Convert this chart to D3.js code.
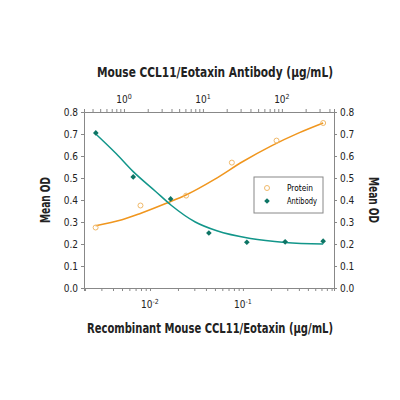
<!DOCTYPE html><html><head><meta charset="utf-8"><script src="https://cdn.jsdelivr.net/npm/d3@7"></script>
<style>body{margin:0;background:#fff}text{font-family:"Liberation Sans Narrow","DejaVu Sans Condensed",sans-serif}</style></head><body><svg id="c" width="400" height="400"></svg><script>
const proteinX=[0.0026,0.0079,0.0245,0.076,0.23,0.73];
const proteinY=[0.275,0.375,0.42,0.57,0.67,0.75];
const antibodyX=[0.44,1.31,3.9,11.9,36,110,333];
const antibodyY=[0.705,0.505,0.405,0.25,0.208,0.21,0.213];
const proteinFitX=[0.0026,0.005,0.008,0.015,0.025,0.05,0.1,0.2,0.4,0.73];
const proteinFitY=[0.283,0.31,0.34,0.385,0.425,0.495,0.575,0.645,0.705,0.75];
const antibodyFitX=[0.44,0.8,1.3,2.5,4,8,15,40,110,333];
const antibodyFitY=[0.70,0.61,0.53,0.44,0.375,0.30,0.26,0.225,0.207,0.20];
const yTicks=[0,0.1,0.2,0.3,0.4,0.5,0.6,0.7,0.8];
const svg=d3.select("#c");
const L=84,R=334,T=112,B=288;
const xb=d3.scaleLog().domain([Math.pow(10,-2.71),Math.pow(10,-0.02)]).range([L,R]);
const xt=d3.scaleLog().domain([Math.pow(10,-0.506),Math.pow(10,2.66)]).range([L,R]);
const y=d3.scaleLinear().domain([0,0.8]).range([B,T]);
function logAxis(g,ax,scale,exps,below){
  g.call(ax.tickSize(3).tickFormat(""));
  g.select(".domain").attr("stroke","#888");g.selectAll(".tick line").attr("stroke","#888");
  exps.forEach(e=>{const t=g.append("text").attr("x",scale(Math.pow(10,e))).attr("y",below?20:-9).attr("text-anchor","middle").attr("font-size",10).attr("fill","#222");
    t.append("tspan").text("10");t.append("tspan").attr("dy",-4).attr("font-size",7).text(e);});
}
const gb=svg.append("g").attr("transform",`translate(0,${B})`);
logAxis(gb,d3.axisBottom(xb),xb,[-2,-1],true);
const gt=svg.append("g").attr("transform",`translate(0,${T})`);
logAxis(gt,d3.axisTop(xt),xt,[0,1,2],false);
[[L,d3.axisLeft(y)],[R,d3.axisRight(y)]].forEach(([x,a])=>{
  const g=svg.append("g").attr("transform",`translate(${x},0)`).call(a.tickValues(yTicks).tickSize(3).tickFormat(d3.format(".1f")));
  g.select(".domain").attr("stroke","#888");g.selectAll(".tick line").attr("stroke","#888");
  g.selectAll("text").attr("font-size",10).attr("fill","#222");
});
const ln=d3.line().curve(d3.curveMonotoneX);
svg.append("path").attr("d",ln(proteinFitX.map((d,i)=>[xb(d),y(proteinFitY[i])]))).attr("fill","none").attr("stroke","#f0961e").attr("stroke-width",1.5);
svg.append("path").attr("d",ln(antibodyFitX.map((d,i)=>[xt(d),y(antibodyFitY[i])]))).attr("fill","none").attr("stroke","#12968a").attr("stroke-width",1.5);
svg.selectAll(".p").data(proteinX).enter().append("circle").attr("cx",d=>xb(d)).attr("cy",(d,i)=>y(proteinY[i])).attr("r",2.5).attr("fill","none").attr("stroke","#f0b96a");
const dia=d3.symbol().type(d3.symbolSquare).size(16);
svg.selectAll(".a").data(antibodyX).enter().append("path").attr("d",dia).attr("transform",(d,i)=>`translate(${xt(d)},${y(antibodyY[i])}) rotate(45)`).attr("fill","#0d7565");
const lg=svg.append("g");
lg.append("rect").attr("x",254).attr("y",177).attr("width",69).attr("height",36).attr("fill","#fff").attr("stroke","#888");
lg.append("circle").attr("cx",267).attr("cy",188).attr("r",2.5).attr("fill","none").attr("stroke","#f0b96a");
lg.append("path").attr("d",dia).attr("transform","translate(267,201) rotate(45)").attr("fill","#0d7565");
lg.append("text").attr("x",287).attr("y",191).attr("font-size",9).attr("textLength",26).attr("lengthAdjust","spacingAndGlyphs").text("Protein");
lg.append("text").attr("x",287).attr("y",204).attr("font-size",9).attr("textLength",30).attr("lengthAdjust","spacingAndGlyphs").text("Antibody");
const ttl=(x,y,s,w,r)=>svg.append("text").attr("transform",`translate(${x},${y}) rotate(${r||0})`).attr("text-anchor","middle").attr("font-size",14).attr("font-weight","bold").attr("fill","#222").attr("textLength",w).attr("lengthAdjust","spacingAndGlyphs").text(s);
ttl(215,77,"Mouse CCL11/Eotaxin Antibody (µg/mL)",236);
ttl(210,333,"Recombinant Mouse CCL11/Eotaxin (µg/mL)",246);
ttl(50,200,"Mean OD",46,-90);
ttl(369,200,"Mean OD",46,90);
</script></body></html>
